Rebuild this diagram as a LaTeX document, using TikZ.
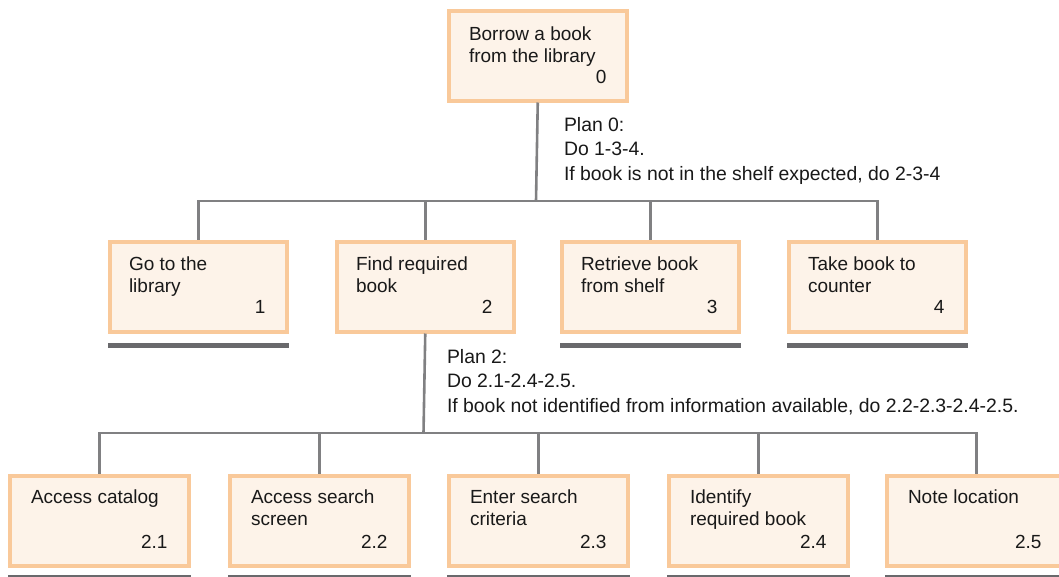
\documentclass[tikz,border=0pt]{standalone}
\usepackage{fontspec}
\setmainfont{Liberation Sans}
\definecolor{boxborder}{RGB}{249,201,154}
\definecolor{boxfill}{RGB}{253,243,233}
\definecolor{linegray}{RGB}{128,128,130}
\definecolor{bargray}{RGB}{105,105,108}
\definecolor{txtcol}{RGB}{25,25,25}
\begin{document}
\begin{tikzpicture}[x=1pt,y=-1pt,
  task/.style={draw=boxborder, line width=3.5pt, fill=boxfill, rectangle, anchor=north west, inner sep=0pt, minimum height=90pt},
  topbox/.style={task, minimum width=178pt},
  lvlone/.style={task, minimum width=177pt},
  lvltwo/.style={task, minimum width=179pt},
  conn/.style={draw=linegray, line width=2.6pt},
  bar/.style={draw=bargray, line width=4.5pt},
  txt/.style={inner sep=0pt, outer sep=0pt, text=txtcol, font=\fontsize{19}{22}\selectfont, align=left},
  plantxt/.style={inner sep=0pt, outer sep=0pt, text=txtcol, font=\fontsize{19.4}{24.5}\selectfont},
]
\useasboundingbox (0,0) rectangle (1059,576);
\clip (0,0) rectangle (1059,576);
\fill[white] (0,0) rectangle (1059,576);

% junction points
\coordinate (j0) at (536,201);
\coordinate (j2) at (423.5,433);

% boxes
\node[topbox] (t0) at (447,9) {};
\node[lvlone] (t1) at (108,240) {};
\node[lvlone] (t2) at (335,240) {};
\node[lvlone] (t3) at (560,240) {};
\node[lvlone] (t4) at (787,240) {};
\node[lvltwo] (t21) at (8,474) {};
\node[lvltwo] (t22) at (228,474) {};
\node[lvltwo] (t23) at (447,474) {};
\node[lvltwo] (t24) at (667,474) {};
\node[lvltwo] (t25) at (885,474) {};

% connectors
\draw[conn] (t0.south) -- (j0);
\draw[conn] (j0) -| (t1.north);
\draw[conn] (j0) -| (t2.north);
\draw[conn] (j0) -| (t3.north);
\draw[conn] (j0) -| (t4.north);
\draw[conn] (t2.south) -- (j2);
\draw[conn] (j2) -| (t21.north);
\draw[conn] (j2) -| (t22.north);
\draw[conn] (j2) -| (t23.north);
\draw[conn] (j2) -| (t24.north);
\draw[conn] (j2) -| (t25.north);

% bars under leaf tasks
\foreach \b in {t1,t3,t4}{
  \draw[bar] ([yshift=-12pt]\b.south west) -- ([yshift=-12pt]\b.south east);
}
\foreach \b in {t21,t22,t23,t24,t25}{
  \draw[bar] ([yshift=-10pt]\b.south west) -- ([yshift=-10pt]\b.south east);
}

% box texts
\node[txt, anchor=base west] (l0) at ([shift={(22pt,-31pt)}]t0.north west) {\begin{tabular}[t]{@{}l@{}}Borrow a book\\from the library\end{tabular}};
\node[txt, anchor=base east] (n0) at ([shift={(-22pt,-74pt)}]t0.north east) {0};

\node[txt, anchor=base west] (l1) at ([shift={(21pt,-30pt)}]t1.north west) {\begin{tabular}[t]{@{}l@{}}Go to the\\library\end{tabular}};
\node[txt, anchor=base east] (n1) at ([shift={(-23pt,-73pt)}]t1.north east) {1};
\node[txt, anchor=base west] (l2) at ([shift={(21pt,-30pt)}]t2.north west) {\begin{tabular}[t]{@{}l@{}}Find required\\book\end{tabular}};
\node[txt, anchor=base east] (n2) at ([shift={(-23pt,-73pt)}]t2.north east) {2};
\node[txt, anchor=base west] (l3) at ([shift={(21pt,-30pt)}]t3.north west) {\begin{tabular}[t]{@{}l@{}}Retrieve book\\from shelf\end{tabular}};
\node[txt, anchor=base east] (n3) at ([shift={(-23pt,-73pt)}]t3.north east) {3};
\node[txt, anchor=base west] (l4) at ([shift={(21pt,-30pt)}]t4.north west) {\begin{tabular}[t]{@{}l@{}}Take book to\\counter\end{tabular}};
\node[txt, anchor=base east] (n4) at ([shift={(-23pt,-73pt)}]t4.north east) {4};

\node[txt, anchor=base west] (l21) at ([shift={(23pt,-29pt)}]t21.north west) {Access catalog};
\node[txt, anchor=base east] (n21) at ([shift={(-23pt,-74pt)}]t21.north east) {2.1};
\node[txt, anchor=base west] (l22) at ([shift={(23pt,-29pt)}]t22.north west) {\begin{tabular}[t]{@{}l@{}}Access search\\screen\end{tabular}};
\node[txt, anchor=base east] (n22) at ([shift={(-23pt,-74pt)}]t22.north east) {2.2};
\node[txt, anchor=base west] (l23) at ([shift={(23pt,-29pt)}]t23.north west) {\begin{tabular}[t]{@{}l@{}}Enter search\\criteria\end{tabular}};
\node[txt, anchor=base east] (n23) at ([shift={(-23pt,-74pt)}]t23.north east) {2.3};
\node[txt, anchor=base west] (l24) at ([shift={(23pt,-29pt)}]t24.north west) {\begin{tabular}[t]{@{}l@{}}Identify\\required book\end{tabular}};
\node[txt, anchor=base east] (n24) at ([shift={(-23pt,-74pt)}]t24.north east) {2.4};
\node[txt, anchor=base west] (l25) at ([shift={(23pt,-29pt)}]t25.north west) {Note location};
\node[txt, anchor=base west] (n25) at ([shift={(130pt,-74pt)}]t25.north west) {2.5};

% plans
\node[plantxt, anchor=base west] (plan0) at (564,131) {\begin{tabular}[t]{@{}l@{}}Plan 0:\\Do 1-3-4.\\If book is not in the shelf expected, do 2-3-4\end{tabular}};
\node[plantxt, anchor=base west] (plan2) at (447,363) {\begin{tabular}[t]{@{}l@{}}Plan 2:\\Do 2.1-2.4-2.5.\\If book not identified from information available, do 2.2-2.3-2.4-2.5.\end{tabular}};
\end{tikzpicture}
\end{document}
